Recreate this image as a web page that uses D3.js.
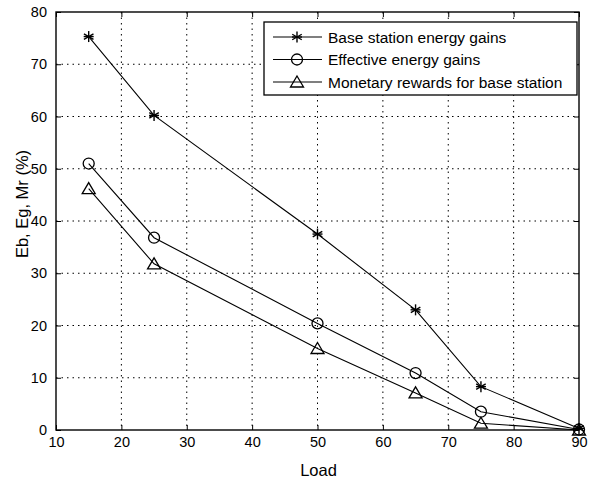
<!DOCTYPE html>
<html>
<head>
<meta charset="utf-8">
<script src="https://cdn.jsdelivr.net/npm/d3@7"></script>
<style>
  body { margin: 0; background: #fff; }
  svg { font-family: "Liberation Sans", Arial, sans-serif; }
  .grid line { stroke: #000; stroke-dasharray: 1.5 4; stroke-width: 1; }
  .series { fill: none; stroke: #000; stroke-width: 1.1; }
</style>
</head>
<body>
<svg class="chart"></svg>
<script>
// DATA /////////////////////////////////////////
const loads = [15, 25, 50, 65, 75, 90];
const baseStationGains = [75.3, 60.2, 37.5, 23.0, 8.3, 0.3];
const effectiveGains = [51.0, 36.8, 20.4, 10.9, 3.5, 0.1];
const monetaryRewards = [46.2, 31.8, 15.6, 7.1, 1.3, 0.0];
const xTicks = [10, 20, 30, 40, 50, 60, 70, 80, 90];
const yTicks = [0, 10, 20, 30, 40, 50, 60, 70, 80];

const series = [
  { name: "Base station energy gains", values: baseStationGains, marker: "star" },
  { name: "Effective energy gains", values: effectiveGains, marker: "circle" },
  { name: "Monetary rewards for base station", values: monetaryRewards, marker: "triangle" },
];

// DEFINITIONS //////////////////////////////////
const W = 589, H = 481;
const margin = { top: 12, right: 10, bottom: 51, left: 56 };
const width = W - margin.left - margin.right;
const height = H - margin.top - margin.bottom;

const svg = d3.select(".chart").attr("width", W).attr("height", H);
const g = svg.append("g").attr("transform", `translate(${margin.left},${margin.top})`);

const x = d3.scaleLinear().domain([10, 90]).range([0, width]);
const y = d3.scaleLinear().domain([0, 80]).range([height, 0]);

// grid
g.append("g").attr("class", "grid")
  .selectAll("line").data(xTicks.slice(1, -1)).join("line")
  .attr("x1", d => x(d)).attr("x2", d => x(d)).attr("y1", 0).attr("y2", height);
g.append("g").attr("class", "grid")
  .selectAll("line").data(yTicks.slice(1, -1)).join("line")
  .attr("y1", d => y(d)).attr("y2", d => y(d)).attr("x1", 0).attr("x2", width);

// axes (ticks point inward, mirrored on top/right)
const axisStyle = sel => {
  sel.select(".domain").remove();
  sel.selectAll("text").attr("font-size", 14.5).attr("fill", "#000");
  sel.selectAll("line").attr("stroke", "#000");
};
g.append("g").attr("transform", `translate(0,${height})`)
  .call(d3.axisBottom(x).tickValues(xTicks).tickSize(-5).tickPadding(7))
  .call(axisStyle);
g.append("g")
  .call(d3.axisLeft(y).tickValues(yTicks).tickSize(-5).tickPadding(9))
  .call(axisStyle);
g.append("g")
  .call(d3.axisTop(x).tickValues(xTicks).tickSize(-5).tickFormat(""))
  .call(axisStyle);
g.append("g").attr("transform", `translate(${width},0)`)
  .call(d3.axisRight(y).tickValues(yTicks).tickSize(-5).tickFormat(""))
  .call(axisStyle);

g.append("rect").attr("width", width).attr("height", height)
  .attr("fill", "none").attr("stroke", "#000").attr("stroke-width", 1.4);

// DRAWING TOOLS ////////////////////////////////
const drawMarker = (sel, type) => {
  if (type === "star") {
    const r = 5.5;
    [0, 60, 120].forEach(a => {
      const rad = a * Math.PI / 180;
      sel.append("line")
        .attr("x1", -r * Math.sin(rad)).attr("y1", -r * Math.cos(rad))
        .attr("x2", r * Math.sin(rad)).attr("y2", r * Math.cos(rad))
        .attr("stroke", "#000").attr("stroke-width", 1.4);
    });
    sel.append("line").attr("x1", -5).attr("x2", 5).attr("y1", 0).attr("y2", 0)
      .attr("stroke", "#000").attr("stroke-width", 1.4);
  } else if (type === "circle") {
    sel.append("circle").attr("r", 5.5).attr("fill", "none")
      .attr("stroke", "#000").attr("stroke-width", 1.3);
  } else {
    sel.append("path").attr("d", "M0,-6L6.5,5L-6.5,5Z").attr("fill", "none")
      .attr("stroke", "#000").attr("stroke-width", 1.3);
  }
};

const line = d3.line().x(d => x(d[0])).y(d => y(d[1]));

series.forEach(s => {
  const pts = loads.map((l, i) => [l, s.values[i]]);
  g.append("path").attr("class", "series").attr("d", line(pts));
  pts.forEach(p => {
    g.append("g").attr("transform", `translate(${x(p[0])},${y(p[1])})`)
      .call(drawMarker, s.marker);
  });
});

// legend
const lg = svg.append("g").attr("transform", "translate(264,22)");
lg.append("rect").attr("width", 313).attr("height", 73)
  .attr("fill", "#fff").attr("stroke", "#000").attr("stroke-width", 1.3);
series.forEach((s, i) => {
  const row = lg.append("g").attr("transform", `translate(0,${15 + i * 22.5})`);
  row.append("line").attr("x1", 9).attr("x2", 58).attr("stroke", "#000").attr("stroke-width", 1.1);
  row.append("g").attr("transform", "translate(33,0)").call(drawMarker, s.marker);
  row.append("text").attr("x", 64).attr("dy", "0.36em")
    .attr("font-size", 15.5).text(s.name);
});

// labels
svg.append("text").attr("x", margin.left + width / 2 + 1).attr("y", 476)
  .attr("text-anchor", "middle").attr("font-size", 16.5).text("Load");
svg.append("text")
  .attr("transform", "translate(28,204) rotate(-90)")
  .attr("text-anchor", "middle").attr("font-size", 16.5).text("Eb, Eg, Mr (%)");
</script>
</body>
</html>
